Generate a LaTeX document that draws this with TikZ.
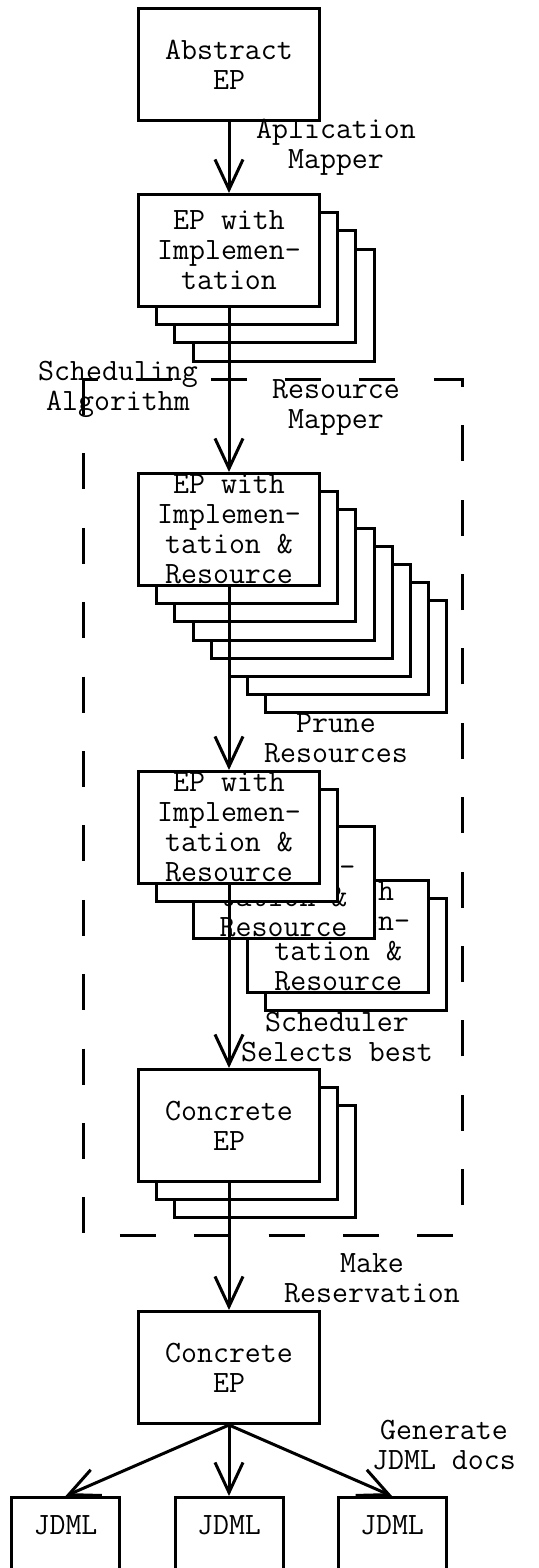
\documentclass[tikz,border=0pt]{standalone}
\usepackage{tikz}
\usetikzlibrary{arrows.meta}

\newcommand{\epfont}{\ttfamily\fontsize{31}{30}\selectfont}

\begin{document}
\begin{tikzpicture}[x = 1pt, y = -1pt, line width = 3pt,
    every node/.style = {font = \epfont, align = center, inner sep = 0pt},
    box/.style = {draw, fill = white, anchor = north west,
        minimum width = 181pt, minimum height = 112pt},
    doc/.style = {draw, anchor = north west, minimum width = 108pt,
        text height = 37pt, text depth = 80pt},
    arr/.style = {-{Straight Barb[length = 30pt, width = 28pt]}},
    dashbox/.style = {dash pattern = on 36pt off 38.4pt}]

\clip (0, 0) rectangle (538, 1568);

\draw[dashbox] (83, 379) -- (83, 1235) -- (462, 1235) -- (462, 379) -- cycle;

\node[box] (abs) at (137, 7) {Abstract\\EP};

\foreach \i in {3, 2, 1}
    \node[box] (impl\i) at (137+18.2*\i, 193+18.2*\i) {};
\node[box] (impl) at (137, 193) {EP with\\Implemen-\\tation};

\foreach \i in {7, 6, ..., 1}
    \node[box] (res\i) at (137+18.2*\i, 472+18.2*\i) {};
\node[box] (res) at (137, 472) {EP with\\Implemen-\\tation \&\\Resource};

\node[box] (prn7) at (137+18.2*7, 770+18.2*7) {};
\node[box] (prn6) at (137+18.2*6, 770+18.2*6) {EP with\\Implemen-\\tation \&\\Resource};
\node[box] (prn3) at (137+18.2*3, 770+18.2*3) {EP with\\Implemen-\\tation \&\\Resource};
\node[box] (prn1) at (137+18.2, 770+18.2) {};
\node[box] (prn) at (137, 770) {EP with\\Implemen-\\tation \&\\Resource};

\foreach \i in {2, 1}
    \node[box] (conc\i) at (137+18.2*\i, 1068+18.2*\i) {};
\node[box] (conc) at (137, 1068) {Concrete\\EP};

\node[box] (fin) at (137, 1310) {Concrete\\EP};

\node[doc] (jd1) at (10, 1496) {JDML};
\node[doc] (jd2) at (173.5, 1496) {JDML};
\node[doc] (jd3) at (336.5, 1496) {JDML};

\draw[arr] (abs) -- (impl);
\draw[arr] (impl) -- (res);
\draw[arr] (res) -- (prn);
\draw[arr] (prn) -- (conc);
\draw[arr] (conc) -- (fin);
\draw[arr] (fin.south) -- (jd1.north);
\draw[arr] (fin.south) -- (jd2.north);
\draw[arr] (fin.south) -- (jd3.north);

\node (appmap) at (336, 147) {Aplication\\Mapper};
\node (sched) at (118, 389) {Scheduling\\Algorithm};
\node (resmap) at (336, 407) {Resource\\Mapper};
\node (prune) at (336, 738.5) {Prune\\Resources};
\node (best) at (337, 1037.5) {Scheduler\\Selects best};
\node (resv) at (372, 1278.5) {Make\\Reservation};
\node (gen) at (444, 1445.5) {Generate\\JDML docs};

\end{tikzpicture}
\end{document}
